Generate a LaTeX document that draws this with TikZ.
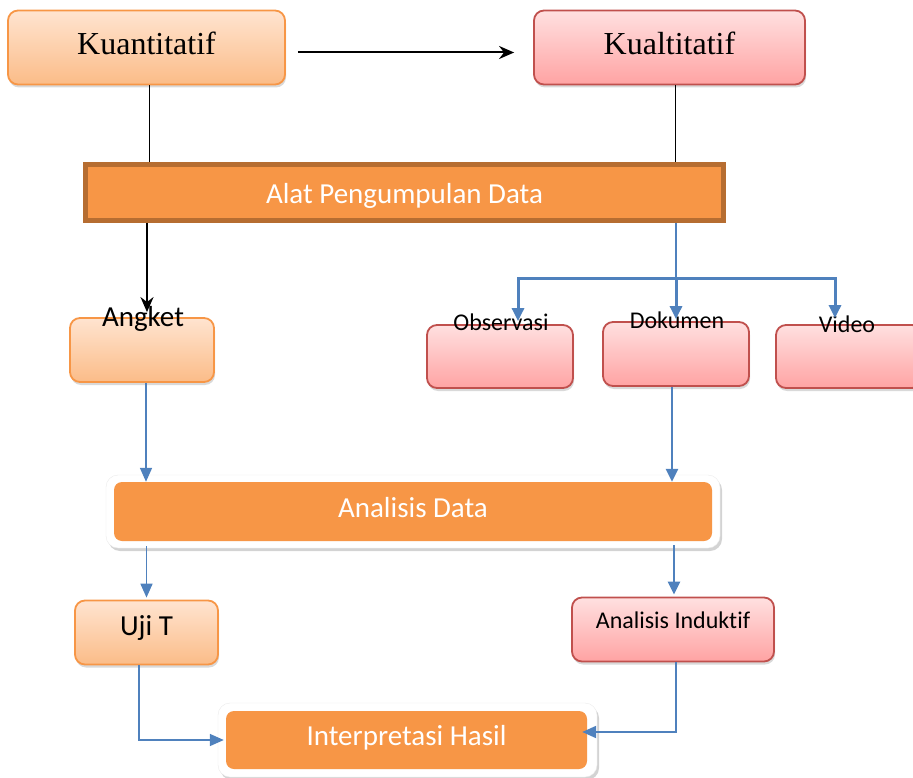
\documentclass[tikz,border=0pt]{standalone}
\usepackage{fontspec}
\setmainfont{Carlito}[Ligatures=NoCommon]
\newfontfamily\serifjudul{Liberation Serif}
\usetikzlibrary{arrows.meta,shadows}

\definecolor{oranyeIsi}{HTML}{F79646}
\definecolor{oranyeTepi}{HTML}{B66D31}
\definecolor{oranyeGaris}{HTML}{F79646}
\definecolor{oranyeAtas}{HTML}{FFE4D0}
\definecolor{oranyeBawah}{HTML}{FBBC88}
\definecolor{merahGaris}{HTML}{C0504D}
\definecolor{merahAtas}{HTML}{FFE0E0}
\definecolor{merahBawah}{HTML}{FFA3A3}
\definecolor{biruPanah}{HTML}{4F81BD}

\tikzset{
  bayang/.style={drop shadow={opacity=0.3, shadow xshift=1pt, shadow yshift=-3pt}},
  kuanbox/.style={draw=oranyeGaris, line width=1.8pt, rounded corners=10pt,
    top color=oranyeAtas, bottom color=oranyeBawah, bayang, inner sep=0pt},
  kualbox/.style={draw=merahGaris, line width=1.8pt, rounded corners=10pt,
    top color=merahAtas, bottom color=merahBawah, bayang, inner sep=0pt},
  tahapbox/.style={fill=oranyeIsi, rounded corners=8pt, text=white, inner sep=0pt,
    font=\fontsize{29}{34}\selectfont},
  bingkai/.style={fill=white, draw=black!8, rounded corners=12pt,
    drop shadow={opacity=0.35, shadow xshift=2pt, shadow yshift=-3pt}},
  judul/.style={font=\serifjudul\fontsize{32}{38}\selectfont},
  teksbesar/.style={font=\fontsize{29}{34}\selectfont},
  tekskecil/.style={font=\fontsize{24}{28}\selectfont},
  panahhitam/.style={line width=2pt, -{Stealth[length=15pt,width=13pt]}},
  garishitam/.style={line width=1.8pt},
  panahbiru/.style={draw=biruPanah, line width=1.7pt, -{Triangle[length=14pt,width=12pt]}},
  panahtebal/.style={draw=biruPanah, line width=3pt, -{Triangle[length=13pt,width=12pt]}},
}

\begin{document}
\begin{tikzpicture}[x=1pt,y=-1pt]
  \useasboundingbox (0,0) rectangle (913,778);

  % dua pendekatan
  \node[kuanbox, judul, minimum width=277pt, minimum height=74pt, text height=22pt, text depth=7pt]
    (kuantitatif) at (146.5,47.5) {Kuantitatif};
  \node[kualbox, judul, minimum width=271pt, minimum height=74pt, text height=22pt, text depth=7pt]
    (kualitatif) at (669.5,47.5) {Kualtitatif};

  % alat pengumpulan data
  \node[draw=oranyeTepi, fill=oranyeIsi, line width=5pt, text=white, teksbesar, inner sep=0pt,
    minimum width=638pt, minimum height=56pt, text height=23pt, text depth=0pt]
    (alat) at (404.5,192.5) {Alat Pengumpulan Data};

  % instrumen
  \node[kuanbox, minimum width=144pt, minimum height=64pt] (angket) at (142,350) {};
  \node[kualbox, minimum width=146pt, minimum height=63pt] (observasi) at (500,356.5) {};
  \node[kualbox, minimum width=146pt, minimum height=64pt] (dokumen) at (676,354) {};
  \node[kualbox, minimum width=146pt, minimum height=63pt] (video) at (849,356.5) {};

  % analisis data
  \node[bingkai, minimum width=614pt, minimum height=73pt] (bingkaianalisis) at (413,511.5) {};
  \node[tahapbox, minimum width=598pt, minimum height=59pt, text height=20pt, text depth=8pt]
    (analisis) at (413,511.5) {Analisis Data};

  % hasil analisis
  \node[kuanbox, teksbesar, minimum width=143pt, minimum height=64pt, text height=20pt, text depth=15pt]
    (ujit) at (146.5,632.5) {Uji T};
  \node[kualbox, tekskecil, minimum width=202pt, minimum height=64pt, text height=17pt, text depth=20pt]
    (induktif) at (673,629.5) {Analisis Induktif};

  % interpretasi
  \node[bingkai, minimum width=379pt, minimum height=74pt] (bingkaiinterp) at (407.5,740) {};
  \node[tahapbox, minimum width=361pt, minimum height=58pt, text height=20pt, text depth=10pt]
    (interp) at (406.5,740) {Interpretasi Hasil};

  % label di tepi atas kotak
  \node[teksbesar, anchor=base] (labelangket) at (143,326) {Angket};
  \node[tekskecil, anchor=base] (labelobservasi) at (501,330) {Observasi};
  \node[tekskecil, anchor=base] (labeldokumen) at (677,328) {Dokumen};
  \node[tekskecil, anchor=base] (labelvideo) at (847,332) {Video};

  % penghubung hitam
  \draw[panahhitam] ([yshift=-5pt]kuantitatif.east) ++(12pt,0) -- ([xshift=-19pt,yshift=-5pt]kualitatif.west);
  \draw[garishitam] ([xshift=3pt]kuantitatif.south) -- ([xshift=3pt]kuantitatif.south |- alat.north);
  \draw[garishitam] ([xshift=6pt]kualitatif.south) -- ([xshift=6pt]kualitatif.south |- alat.north);
  \draw[panahhitam, shorten >=5pt] ([xshift=5pt]angket.north |- alat.south) -- ([xshift=5pt]angket.north);

  % cabang kualitatif
  \coordinate (cabang) at (676,278);
  \draw[draw=biruPanah, line width=1.2pt] (cabang |- alat.south) -- (cabang);
  \draw[panahtebal, shorten >=3pt] (cabang) -| ([xshift=18pt]observasi.north);
  \draw[panahtebal, shorten >=2pt] (cabang) -- (dokumen.north);
  \draw[panahtebal, shorten >=6pt] (cabang) -| ([xshift=-14pt]video.north);

  % menuju analisis
  \draw[panahbiru] ([xshift=4pt]angket.south) -- ([xshift=4pt]angket.south |- analisis.north);
  \draw[panahtebal, line width=2.6pt] ([xshift=-4pt]dokumen.south) -- ([xshift=-4pt]dokumen.south |- analisis.north);
  \draw[panahbiru, shorten <=5pt, shorten >=2pt] (analisis.south -| ujit.north) -- (ujit.north);
  \draw[panahtebal, line width=2.6pt, shorten <=4pt, shorten >=2pt] ([xshift=1pt]analisis.south -| induktif.north) -- ([xshift=1pt]induktif.north);

  % menuju interpretasi
  \draw[panahbiru, shorten >=2pt] ([xshift=-7.5pt]ujit.south) |- (interp.west);
  \draw[panahbiru, line width=2pt, shorten >=-5pt] ([xshift=3pt]induktif.south) |- ([yshift=8pt]interp.east);
\end{tikzpicture}
\end{document}
